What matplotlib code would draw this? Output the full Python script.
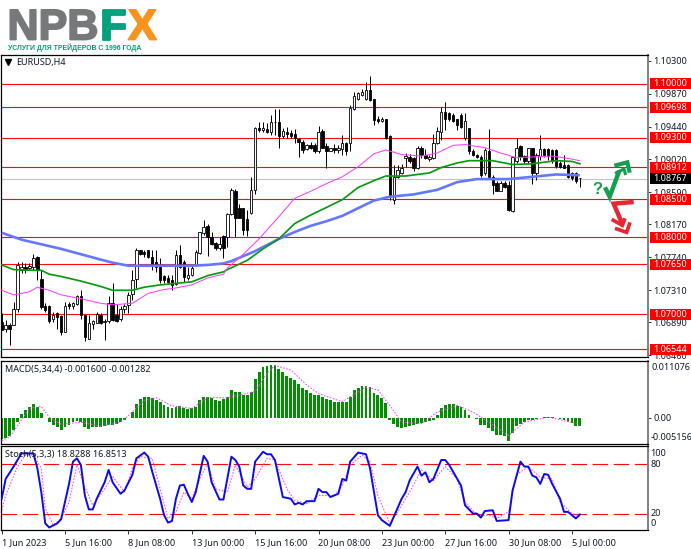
import numpy as np
import matplotlib
matplotlib.use("Agg")
import matplotlib.pyplot as plt
import matplotlib.patheffects as pe
from matplotlib.lines import Line2D
from matplotlib.patches import Rectangle
from matplotlib.transforms import Affine2D, IdentityTransform, blended_transform_factory

# ---------- data (prices stored in 1e-4 units) ----------
open_pts = [10690,10680,10686,10686,10707,10758,10761,10760,10761,10774,
10746,10710,10710,10693,10701,10697,10677,10713,10710,10713,
10723,10699,10668,10687,10688,10699,10689,10691,10715,10699,
10693,10706,10712,10726,10746,10783,10781,10783,10774,10768,
10761,10749,10747,10744,10739,10777,10768,10747,10751,10764,
10779,10806,10815,10801,10793,10786,10802,10801,10831,10861,
10838,10838,10824,10832,10862,10943,10940,10941,10938,10950,
10950,10932,10938,10936,10935,10928,10925,10915,10920,10920,
10912,10939,10919,10913,10916,10914,10915,10923,10923,10968,
10980,10986,10980,10992,10981,10955,10952,10954,10932,10849,
10879,10884,10903,10905,10903,10890,10917,10907,10902,10903,
10923,10938,10964,10962,10960,10954,10960,10929,10942,10912,
10908,10905,10884,10913,10879,10871,10861,10871,10868,10834,
10899,10919,10906,10899,10917,10884,10906,10915,10915,10914,
10914,10897,10894,10894,10884,10884,10877]
high_pts = [10701,10692,10688,10716,10768,10768,10766,10766,10778,10776,
10758,10715,10712,10703,10703,10699,10716,10716,10716,10725,
10732,10699,10699,10692,10703,10701,10693,10723,10740,10713,
10710,10713,10729,10757,10786,10784,10783,10784,10783,10783,
10773,10751,10751,10751,10783,10790,10770,10761,10763,10783,
10807,10823,10818,10807,10794,10801,10803,10832,10864,10863,
10844,10838,10836,10879,10944,10951,10950,10949,10960,10968,
10967,10942,10944,10940,10941,10929,10927,10922,10925,10923,
10945,10941,10923,10917,10922,10920,10934,10925,10973,10990,
10990,10994,11003,11010,10981,10958,10957,10955,10934,10894,
10894,10896,10910,10909,10905,10919,10919,10915,10907,10935,
10944,10970,10976,10964,10962,10955,10962,10962,10942,10915,
10909,10907,10916,10941,10881,10873,10873,10873,10873,10905,
10929,10921,10907,10917,10917,10910,10934,10916,10916,10915,
10915,10899,10907,10896,10885,10885,10877]
low_pts = [10679,10677,10660,10686,10703,10754,10754,10757,10757,10745,
10707,10703,10688,10690,10681,10673,10677,10706,10707,10712,
10694,10665,10668,10680,10688,10687,10666,10688,10691,10690,
10691,10701,10701,10718,10734,10777,10775,10773,10758,10755,
10741,10741,10740,10731,10738,10760,10742,10744,10749,10763,
10778,10803,10776,10790,10783,10783,10773,10788,10829,10801,
10825,10803,10802,10831,10857,10938,10937,10936,10934,10934,
10916,10929,10930,10930,10923,10905,10910,10914,10915,10910,
10910,10916,10891,10912,10910,10910,10907,10907,10912,10966,
10979,10984,10979,10978,10947,10949,10951,10928,10849,10844,
10877,10883,10892,10897,10886,10889,10904,10902,10900,10902,
10922,10927,10940,10952,10951,10940,10942,10927,10909,10906,
10903,10879,10881,10879,10857,10860,10860,10865,10834,10833,
10897,10901,10897,10897,10869,10875,10901,10905,10901,10897,
10891,10890,10890,10877,10875,10871,10866]
close_pts = [10679,10686,10681,10707,10764,10761,10758,10763,10773,10758,
10709,10705,10691,10699,10696,10677,10710,10710,10714,10723,
10699,10670,10688,10691,10700,10688,10691,10715,10692,10691,
10707,10710,10725,10745,10784,10778,10778,10774,10763,10761,
10745,10745,10742,10738,10777,10761,10748,10751,10760,10781,
10807,10814,10800,10791,10786,10791,10786,10831,10862,10825,
10825,10810,10810,10862,10942,10940,10942,10938,10950,10951,
10932,10939,10935,10932,10929,10924,10914,10920,10917,10912,
10938,10917,10913,10917,10914,10916,10923,10912,10969,10984,
10988,10989,10992,10979,10953,10952,10955,10930,10853,10879,
10888,10890,10906,10900,10890,10917,10907,10903,10905,10923,
10939,10964,10954,10954,10952,10947,10944,10952,10912,10907,
10905,10881,10914,10879,10868,10861,10871,10866,10836,10905,
10916,10905,10899,10916,10884,10907,10915,10907,10906,10899,
10893,10892,10891,10879,10877,10873,10877]

ma_blue_idx = [0,5,10,15,20,25,28,32,40,48,52,56,58,64,70,74,78,82,86,90,94,98,104,110,115,120,128,134,140,146]
ma_blue_pts = [10806,10797,10791,10785,10778,10771,10767,10763,10763,10763,10764,10766,10769,10782,10798,10807,10815,10821,10828,10838,10848,10853,10856,10862,10872,10876,10876,10879,10882,10881]
ma_green_idx = [0,3,8,10,12,15,20,25,28,33,36,40,44,48,52,56,57,62,66,70,74,78,82,86,90,94,97,102,108,111,115,118,124,129,134,140,144,146]
ma_green_pts = [10764,10758,10757,10757,10752,10749,10743,10736,10731,10731,10735,10738,10740,10742,10750,10755,10758,10770,10785,10798,10818,10829,10839,10849,10865,10874,10880,10880,10884,10891,10897,10900,10900,10895,10896,10900,10899,10896]
ma_mag_idx = [0,3,7,9,12,15,20,25,28,33,37,41,44,48,52,56,57,61,65,70,74,78,82,86,90,94,97,101,106,110,114,117,122,126,130,135,139,143,146]
ma_mag_pts = [10731,10725,10729,10735,10731,10725,10720,10714,10712,10714,10727,10732,10734,10738,10747,10752,10760,10778,10798,10827,10851,10860,10870,10879,10892,10909,10914,10908,10906,10910,10920,10921,10917,10910,10904,10905,10906,10903,10900]

levels = [1.10000,1.09698,1.09300,1.08912,1.08500,1.08000,1.07650,1.07000,1.06544]
level_labels = ["1.10000","1.09698","1.09300","1.08912","1.08500","1.08000","1.07650","1.07000","1.06544"]
price_ticks = [1.1030,1.0987,1.0944,1.0902,1.0859,1.0817,1.0774,1.0731,1.0689,1.0646]
price_tick_labels = ["1.10300","1.09870","1.09440","1.09020","1.08590","1.08170","1.07740","1.07310","1.06890","1.06460"]
last_price = 1.08767

macd_hist_1e4 = [-41,-40,-35,-25,-9,7,14,21,26,21,10,-1,-9,-14,-18,-25,-18,-14,-9,-7,-9,-18,-22,-18,-18,-18,-16,-15,-14,-12,-9,-5,-1,11,26,37,41,41,39,35,30,24,21,18,21,23,19,16,18,21,34,41,41,39,35,32,37,41,55,51,51,44,44,51,75,90,99,101,103,103,95,90,81,78,73,65,58,54,49,45,45,41,36,34,31,30,30,
30,41,54,58,62,62,60,49,45,39,28,-5,-13,-18,-20,-18,-16,-15,-12,-10,-9,-7,-5,5,18,24,27,27,23,21,14,6,0,-3,-15,-14,-20,-27,-33,-33,-35,-45,-30,-16,-12,-9,-4,-5,-2,-1,1,1,1,0,-3,-5,-9,-10,-17,-16]
macd_sig_idx = [0,2,5,7,10,12,15,20,25,30,33,36,39,43,48,52,57,64,67,69,73,77,80,86,92,95,98,101,106,110,115,119,123,128,132,138,146]
macd_sig_1e4 = [-45,-38,-5,18,22,1,-13,-9,-17,-9,11,34,39,23,18,39,39,51,87,102,93,64,47,31,60,54,24,-9,-12,11,24,11,-9,-35,-9,1,-13]

stoch_idx = [0,1,3,5,8,9,10,11,12,14,15,17,18,19,20,21,22,23,24,26,27,28,30,31,33,34,36,37,38,40,41,42,43,44,45,46,47,48,49,51,52,53,55,56,58,59,60,61,62,63,64,66,67,68,69,71,73,74,75,76,77,79,80,81,82,83,85,86,87,88,90,92,93,95,96,98,101,102,103,105,106,107,108,109,111,112,113,116,117,119,120,121,122,124,125,128,129,131,132,133,134,135,136,137,138,139,141,142,143,145,146]
stoch_main = [38,62,77,93,93,75,46,8,3,8,13,56,83,87,79,42,25,25,38,58,73,58,44,48,67,87,94,89,71,38,18,9,11,38,54,55,44,34,46,90,83,58,37,37,89,85,77,54,50,50,83,95,92,92,85,40,38,31,33,31,35,35,50,46,46,40,44,62,60,83,94,92,75,18,12,5,38,46,60,77,66,70,58,62,85,85,79,54,30,20,20,15,23,24,11,12,48,83,77,77,66,64,56,68,67,56,38,22,22,14,18.8]
stoch_sig_idx = [0,1,4,6,8,10,11,13,15,17,19,21,23,26,28,31,33,35,38,40,42,44,46,48,50,52,54,57,59,62,64,67,69,72,74,77,80,84,86,88,91,93,95,98,100,103,106,109,112,115,117,120,123,125,128,130,133,136,139,141,144,146]
stoch_sig = [24,42,77,91,91,75,26,6,14,34,79,52,30,50,65,46,75,89,87,50,14,22,46,38,62,81,50,46,79,52,62,87,85,50,36,32,42,42,54,79,91,83,42,8,22,46,73,60,77,62,34,18,18,14,22,67,77,64,62,34,20,16.9]

x_tick_idx = [0,16,32,48,64,80,96,112,128,144]
x_tick_labels = ["1 Jun 2023","5 Jun 16:00","8 Jun 08:00","13 Jun 00:00","15 Jun 16:00","20 Jun 08:00","23 Jun 00:00","27 Jun 16:00","30 Jun 08:00","5 Jul 00:00"]

# ---------- figure ----------
W, H = 691, 549
fig = plt.figure(figsize=(W/100, H/100), dpi=100, facecolor="white")
plt.rcParams["font.family"] = ["Noto Sans", "DejaVu Sans"]
PX = Affine2D().scale(1, -1).translate(0, H)
FS = 6.5
TXT = "#101828"

def make_ax(top, bottom, left=1, right=647.5):
    return fig.add_axes([left/W, 1-bottom/H, (right-left)/W, (bottom-top)/H])

ax = make_ax(54.5, 357)
ax2 = make_ax(361, 444)
ax3 = make_ax(446, 530)
XL = ((1-1.7)/3.96, (647.5-1.7)/3.96)
for a in (ax, ax2, ax3):
    a.set_xlim(*XL)
    a.set_facecolor("white")
    a.yaxis.tick_right()
    a.set_xticks([])
    for s in ("top", "bottom", "left"):
        a.spines[s].set_color("#000000")
        a.spines[s].set_linewidth(0.9)
    a.spines["right"].set_color("#808080")
    a.spines["right"].set_linewidth(1.4)
    a.tick_params(axis="y", length=2.5, width=0.7, color="#303030", labelsize=FS, labelcolor=TXT, pad=1.5)

# main panel
YT = 1.1 + (84-54.5)/7668
YB = 1.1 - (357-84)/7668
ax.set_ylim(YB, YT)
ax.set_yticks(price_ticks)
ax.set_yticklabels(price_tick_labels)

idx = np.arange(len(open_pts))
o, h, l, c = [np.array(v)/1e4 for v in (open_pts, high_pts, low_pts, close_pts)]

for lv in levels:
    ax.axhline(lv, color="#ff0a0a", lw=0.8, zorder=1.5)
ax.axhline(last_price, color="#c4c4c4", lw=0.8, zorder=1.2)

ax.vlines(idx, l, h, color="black", lw=0.72, zorder=2)
up = c >= o
ax.bar(idx[up], (c-o)[up], bottom=o[up], width=0.62, facecolor="white", edgecolor="black", lw=0.6, zorder=2.1)
ax.bar(idx[~up], (o-c)[~up], bottom=c[~up], width=0.62, facecolor="black", edgecolor="black", lw=0.6, zorder=2.1)

ax.plot(ma_blue_idx, np.array(ma_blue_pts)/1e4, color="#6478ff", lw=1.9, zorder=3, solid_capstyle="butt")
ax.plot(ma_green_idx, np.array(ma_green_pts)/1e4, color="#0a9a12", lw=1.25, zorder=3.1)
ax.plot(ma_mag_idx, np.array(ma_mag_pts)/1e4, color="#ff40ff", lw=0.75, zorder=3.2)

ytrans = blended_transform_factory(IdentityTransform(), ax.transData)
for lv, lab in zip(levels, level_labels):
    ax.add_patch(Rectangle((649.5, lv-5.5/7668), 41, 11/7668, transform=ytrans, facecolor="#ff0000", edgecolor="none", clip_on=False, zorder=6))
    ax.text(670, lv, lab, transform=ytrans, color="white", fontsize=FS, ha="center", va="center", clip_on=False, zorder=7)
ax.add_patch(Rectangle((649.5, last_price-5.5/7668), 41, 11/7668, transform=ytrans, facecolor="#000000", edgecolor="none", clip_on=False, zorder=6))
ax.text(670, last_price, "1.08767", transform=ytrans, color="white", fontsize=FS, ha="center", va="center", clip_on=False, zorder=7)

ax.text(16, 62, "EURUSD,H4", transform=PX, fontsize=FS, color=TXT, ha="left", va="center")
ax.plot([7.5], [62], marker="v", ms=4.5, color="black", transform=PX, clip_on=False)

# MACD panel
ax2.set_ylim(-0.005156, 0.011076)
ax2.set_yticks([0.0])
ax2.set_yticklabels(["0.00"])
hist = np.array(macd_hist_1e4)/1e4
ax2.bar(np.arange(len(hist)), hist, width=0.72, color="#009000", zorder=2)
ax2.plot(macd_sig_idx, np.array(macd_sig_1e4)/1e4, color="#ff40ff", lw=0.75, ls=(0, (1.5, 1.5)), zorder=3)
ax2.text(5, 369.5, "MACD(5,34,4) -0.001600 -0.001282", transform=PX, fontsize=FS, color=TXT, ha="left", va="center")
ax2.text(651, 367, "0.011076", transform=PX, fontsize=FS, color=TXT, ha="left", va="center", clip_on=False)
ax2.text(651, 437.5, "-0.005156", transform=PX, fontsize=FS, color=TXT, ha="left", va="center", clip_on=False)

# Stochastic panel
ax3.set_ylim(0, 102)
ax3.set_yticks([])
for lv in (80, 20):
    ax3.axhline(lv, color="#ff0a0a", lw=0.8, dashes=(14, 5), zorder=1.5)
ax3.plot(stoch_sig_idx, stoch_sig, color="#ff40ff", lw=0.75, ls=(0, (1.5, 1.5)), zorder=2)
ax3.plot(stoch_idx, stoch_main, color="#0c0ce8", lw=1.4, zorder=3)
ax3.text(5, 455, "Stoch(5,3,3) 18.8288 16.8513", transform=PX, fontsize=FS, color=TXT, ha="left", va="center")
for lab, yy in (("100", 453.5), ("80", 464.5), ("20", 514), ("0", 524)):
    ax3.text(650.5, yy, lab, transform=PX, fontsize=FS, color=TXT, ha="left", va="center", clip_on=False)
ax3.set_xticks(x_tick_idx)
ax3.set_xticklabels(x_tick_labels, ha="left", fontsize=FS, color=TXT)
ax3.tick_params(axis="x", length=3, width=0.7, color="#303030", pad=2.5)

# logo
def heavy(color, w=1.3):
    return [pe.withStroke(linewidth=w, foreground=color)]
GREY_L, GREEN_L, ORANGE_L = "#77787b", "#00a17e", "#f7941d"
fig.text(7.5, 24, "NPB", transform=PX, fontsize=31, fontweight="bold", family="Liberation Sans", color=GREY_L, ha="left", va="center_baseline", path_effects=heavy(GREY_L))
fig.text(100.5, 24, "F", transform=PX, fontsize=31, fontweight="bold", family="Liberation Sans", color=GREEN_L, ha="left", va="center_baseline", path_effects=heavy(GREEN_L))
fig.text(128, 24, "X", transform=PX, fontsize=31, fontweight="bold", family="Liberation Sans", color=ORANGE_L, ha="left", va="center_baseline", path_effects=heavy(ORANGE_L))
fig.text(8, 47.5, "УСЛУГИ ДЛЯ ТРЕЙДЕРОВ С 1996 ГОДА", transform=PX, fontsize=4.95, fontweight="bold", family="Liberation Sans", color=GREEN_L, ha="left", va="center")

# arrows and question mark
def line(pts, color, lw):
    xs = [585+p[0]/3 for p in pts]
    ys = [150+p[1]/3 for p in pts]
    fig.add_artist(Line2D(xs, ys, transform=PX, color=color, lw=lw, solid_joinstyle="miter", solid_capstyle="butt", zorder=8))
GRN, RED = "#12a04e", "#ea2530"
line([(60,112),(74,140),(103,62)], GRN, 3.2)
line([(88,47),(127,37),(134,68)], GRN, 3.0)
line([(90,70),(117,57),(122,75)], GRN, 2.2)
line([(146,156),(86,161),(112,222)], RED, 3.2)
line([(80,208),(112,226),(120,205)], RED, 2.6)
line([(90,235),(125,247),(135,217)], RED, 2.6)
fig.text(597.5, 190, "?", transform=PX, fontsize=12, fontweight="bold", color=GRN, ha="center", va="center", family="Liberation Sans")

fig.savefig("out.png", dpi=100, facecolor="white")
